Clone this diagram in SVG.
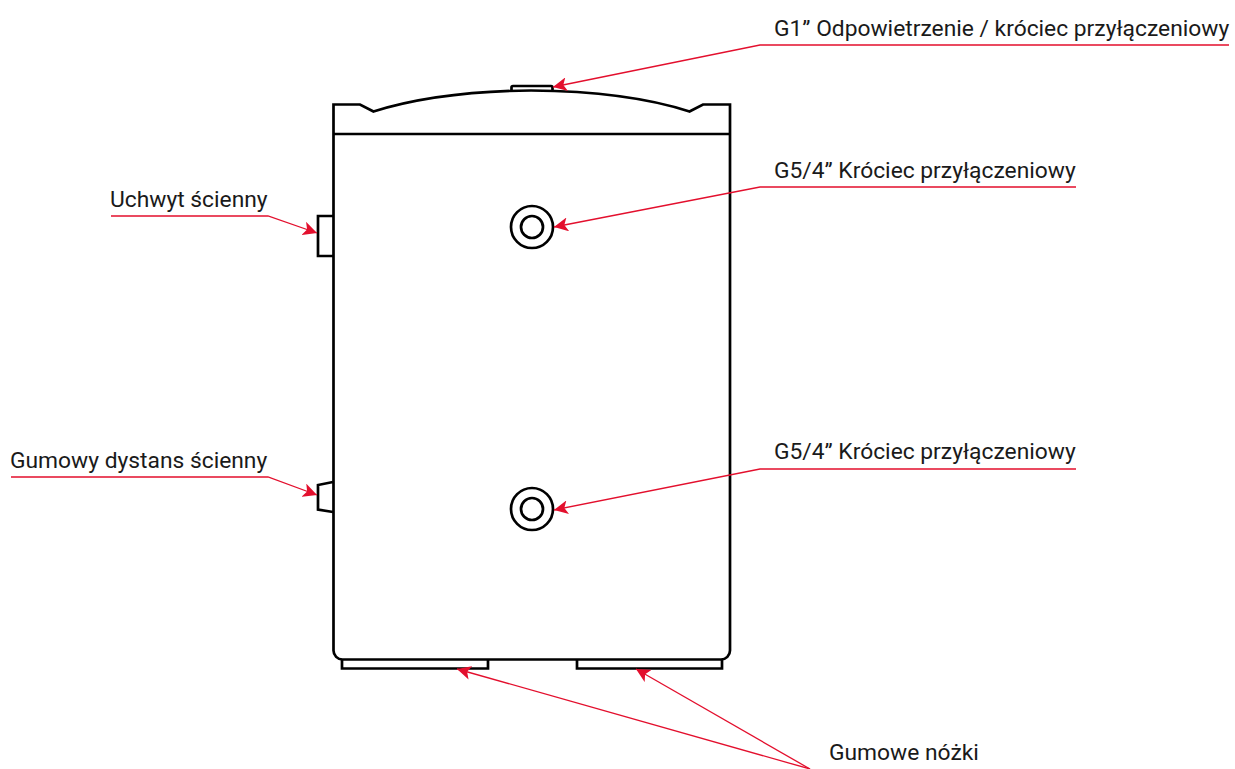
<svg xmlns="http://www.w3.org/2000/svg" width="1235" height="769" viewBox="0 0 1235 769">
<style>
.o{fill:none;stroke:#000;stroke-width:2.7;stroke-linejoin:miter}
.l{fill:none;stroke:#e30f2d;stroke-width:1.3}
text{font-family:Roboto,"Liberation Sans",sans-serif;font-size:22.8px;fill:#1a1a1a}
</style>
<defs><marker id="a" markerUnits="userSpaceOnUse" markerWidth="16" markerHeight="14" refX="14" refY="7" orient="auto"><path d="M0 0L14 7L0 14L3.500 7Z" fill="#e30f2d"/></marker></defs>
<g id="tank">
<path class="o" d="M333.500 134V104.500H360L373.500 111.500C420 97 470 91 531 90.500C595 91 645 97 689.500 111.500L703 104.500H730V650.500A9 9 0 0 1 721 659.500H342.500A9 9 0 0 1 333.500 650.500V134Z"/>
<path class="o" d="M333.500 134H730"/>
</g>
<g id="top-port"><path class="o" d="M511.500 90.500V87.500Q511.500 86 513 86H551Q552.500 86 552.500 87.500V90.500"/></g>
<g id="port-upper"><circle class="o" cx="532" cy="227" r="21"/><circle class="o" cx="532" cy="227" r="11"/></g>
<g id="port-lower"><circle class="o" cx="532" cy="509" r="21"/><circle class="o" cx="532" cy="509" r="11"/></g>
<g id="wall-bracket"><path class="o" d="M333 216H318V256H333"/></g>
<g id="wall-spacer"><path class="o" d="M333 482L318 485V509.500L333 512"/></g>
<g id="foot-left"><path class="o" d="M342 660V668.500H488V660"/></g>
<g id="foot-right"><path class="o" d="M577 660V668.500H722V660"/></g>
<g id="connectors">
<path class="l" d="M1229 45H760L553 87" marker-end="url(#a)"/>
<path class="l" d="M1076 187H760L554 227" marker-end="url(#a)"/>
<path class="l" d="M1076 469H760L554 510" marker-end="url(#a)"/>
<path class="l" d="M111 216H268L317 233" marker-end="url(#a)"/>
<path class="l" d="M11 477H268L317 495" marker-end="url(#a)"/>
<path class="l" d="M810 769L457 669" marker-end="url(#a)"/>
<path class="l" d="M810 769L636 669" marker-end="url(#a)"/>
</g>
<g id="labels">
<text x="774" y="36">G1” Odpowietrzenie / króciec przyłączeniowy</text>
<text x="774" y="178">G5/4” Króciec przyłączeniowy</text>
<text x="774" y="459">G5/4” Króciec przyłączeniowy</text>
<text x="110" y="207">Uchwyt ścienny</text>
<text x="10" y="468">Gumowy dystans ścienny</text>
<text x="829" y="760">Gumowe nóżki</text>
</g>
</svg>
